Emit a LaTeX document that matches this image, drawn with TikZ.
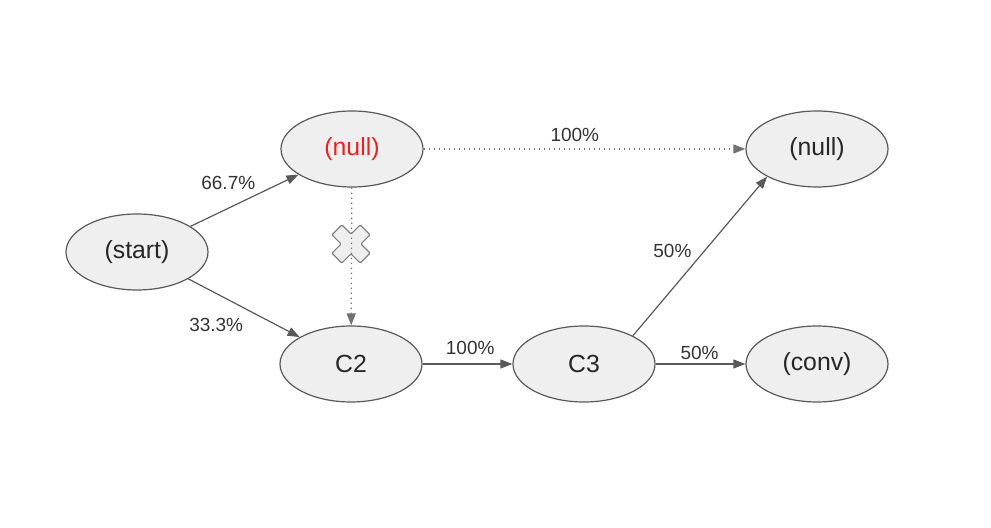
\documentclass[tikz,border=0pt]{standalone}
\usepackage{fontspec}
\setmainfont{Liberation Sans}
\usetikzlibrary{arrows.meta, shapes.geometric}

\definecolor{nodefill}{HTML}{EFEFEF}
\definecolor{linegray}{HTML}{595959}
\definecolor{nullred}{HTML}{E8231F}

\begin{document}
\begin{tikzpicture}[x=0.5pt,y=-0.5pt,
  >={Triangle[length=6pt,width=4.5pt]},
  semithick,
  state/.style={ellipse, draw=linegray, fill=nodefill, minimum width=71pt,
    minimum height=38pt, inner sep=0pt, text=black!85,
    font=\fontsize{12.4}{14}\selectfont},
  prob/.style={font=\fontsize{9.5}{11}\selectfont, text=black!80, inner sep=1pt},
  flow/.style={->, draw=linegray},
  skip/.style={->, draw=linegray!85, dash pattern=on 0.6pt off 1.9pt}]

\useasboundingbox (0,0) rectangle (991,528);

\node [state] (start) at (137,252) {(start)};
\node [state] (nullA) at (352,149) {\textcolor{nullred}{(null)}};
\node [state] (C2)    at (351,364) {C2};
\node [state] (C3)    at (584,364) {C3};
\node [state] (nullB) at (817,149) {(null)};
\node [state] (conv)  at (817,364) {(conv)};

% cut link
\draw [draw=linegray!75, fill=nodefill, line width=0.6pt, rounded corners=0.6pt,
       shift={(351,244)}, rotate=45]
  (7,7) -- (20,7) -- (20,-7) -- (7,-7) -- (7,-20) -- (-7,-20) -- (-7,-7)
  -- (-20,-7) -- (-20,7) -- (-7,7) -- (-7,20) -- (7,20) -- cycle;

\path (start) edge [flow] node [prob, pos=0.35, above=8pt] {66.7\%} (nullA)
              edge [flow] node [prob, pos=0.25, below=11pt] {33.3\%} (C2)
      (nullA) edge [skip] node [prob, pos=0.47, above=2.5pt] {100\%} (nullB)
              edge [skip] (C2)
      (C2)    edge [flow] node [prob, pos=0.53, above=3.5pt] {100\%} (C3)
      (C3)    edge [flow] node [prob, pos=0.49, above=1pt] {50\%} (conv);
\draw [flow] (C3.30) -- node [prob, pos=0.53, left=5pt] {50\%} (nullB.209);

\end{tikzpicture}
\end{document}
